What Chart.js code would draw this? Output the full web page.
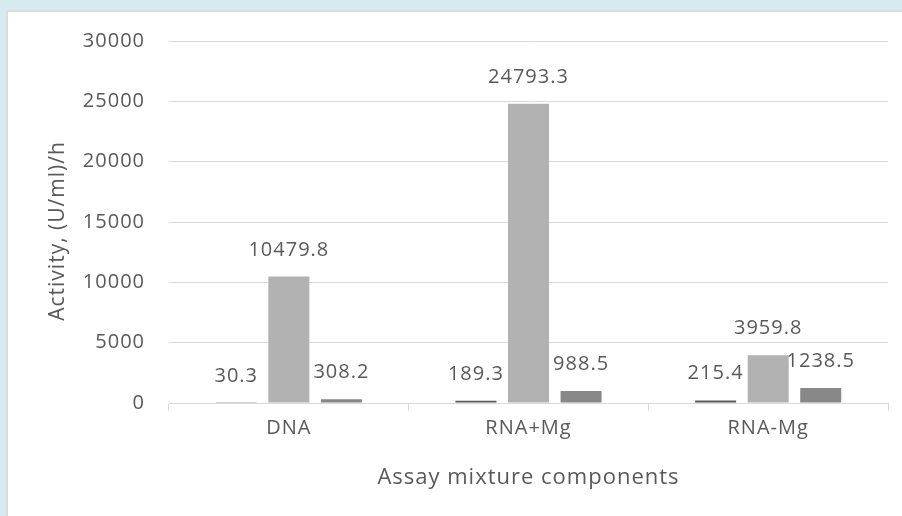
<!DOCTYPE html>
<html>
<head>
<meta charset="utf-8">
<script src="https://cdn.jsdelivr.net/npm/chart.js@4/dist/chart.umd.min.js"></script>
<style>
  html, body { margin: 0; padding: 0; }
  body { width: 902px; height: 516px; background: #d6eaf0; position: relative; overflow: hidden; }
  #box {
    position: absolute; left: 6px; top: 10px; right: 0; bottom: 0;
    background: #fff; border-left: 2px solid #dcdcdc; border-top: 2px solid #dcdcdc;
  }
</style>
</head>
<body>
<div id="box"><canvas id="myChart"></canvas></div>
<script>
// данные с картинки
const categories = ['DNA', 'RNA+Mg', 'RNA-Mg'];
const series1 = [30.3, 189.3, 215.4];
const series2 = [10479.8, 24793.3, 3959.8];
const series3 = [308.2, 988.5, 1238.5];
const yTicks = [0, 5000, 10000, 15000, 20000, 25000, 30000];
const yTitle = 'Activity, (U/ml)/h';

const textColor = '#595959';
const fontFamily = "'Open Sans', sans-serif";

// разрядка букв, как в оригинале
const spacing = {
    id: 'spacing',
    beforeLayout(chart) { chart.ctx.letterSpacing = '1px'; },
    beforeDraw(chart) { chart.ctx.letterSpacing = '1px'; }
};

// подписи над столбцами и заголовок оси Y
const barLabels = {
    id: 'barLabels',
    afterDatasetsDraw(chart) {
        const ctx = chart.ctx;
        ctx.save();
        ctx.letterSpacing = '1px';
        ctx.font = '20px ' + fontFamily;
        ctx.fillStyle = textColor;
        ctx.textAlign = 'center';
        ctx.textBaseline = 'alphabetic';
        chart.data.datasets.forEach((ds, i) => {
            chart.getDatasetMeta(i).data.forEach((bar, j) => {
                ctx.fillText(String(ds.data[j]), bar.x, bar.y - 21);
            });
        });

        const area = chart.chartArea;
        ctx.font = '21px ' + fontFamily;
        ctx.textBaseline = 'middle';
        ctx.translate(50, (area.top + area.bottom) / 2 + 9);
        ctx.rotate(-Math.PI / 2);
        ctx.fillText(yTitle, 0, 0);
        ctx.restore();
    }
};

const ctx = document.getElementById('myChart').getContext('2d');
const myChart = new Chart(ctx, {
    type: 'bar',
    data: {
        labels: categories,
        datasets: [{
            label: 'Series 1',
            data: series1,
            backgroundColor: '#595959'
        }, {
            label: 'Series 2',
            data: series2,
            backgroundColor: '#b2b2b2'
        }, {
            label: 'Series 3',
            data: series3,
            backgroundColor: '#888888'
        }]
    },
    options: {
        responsive: true,
        maintainAspectRatio: false,
        animation: false,
        categoryPercentage: 0.658,
        barPercentage: 0.78,
        layout: { padding: { top: 29, right: 14, left: 0, bottom: 0 } },
        plugins: {
            legend: { display: false },
            tooltip: { enabled: false }
        },
        scales: {
            x: {
                offset: true,
                grid: {
                    offset: true,
                    drawOnChartArea: false,
                    drawTicks: true,
                    tickLength: 8,
                    color: '#d9d9d9'
                },
                border: { display: true, color: '#d9d9d9' },
                ticks: { color: textColor, font: { family: fontFamily, size: 20 }, padding: 5 },
                title: {
                    display: true,
                    text: 'Assay mixture components',
                    color: textColor,
                    font: { family: fontFamily, size: 22 },
                    padding: { top: 0, bottom: 25 }
                },
                afterFit(scale) { scale.height = 113; }
            },
            y: {
                min: 0,
                max: 30000,
                afterBuildTicks(scale) { scale.ticks = yTicks.map(v => ({ value: v })); },
                grid: { color: '#d9d9d9', drawTicks: false },
                border: { display: false },
                ticks: {
                    color: textColor,
                    font: { family: fontFamily, size: 20 },
                    padding: 24,
                    callback: (v) => String(v)
                },
                title: { display: false },
                afterFit(scale) {
                    scale.width = 161;
                    scale.paddingTop = 0;
                    scale.paddingBottom = 0;
                }
            }
        }
    },
    plugins: [spacing, barLabels]
});
</script>
</body>
</html>
